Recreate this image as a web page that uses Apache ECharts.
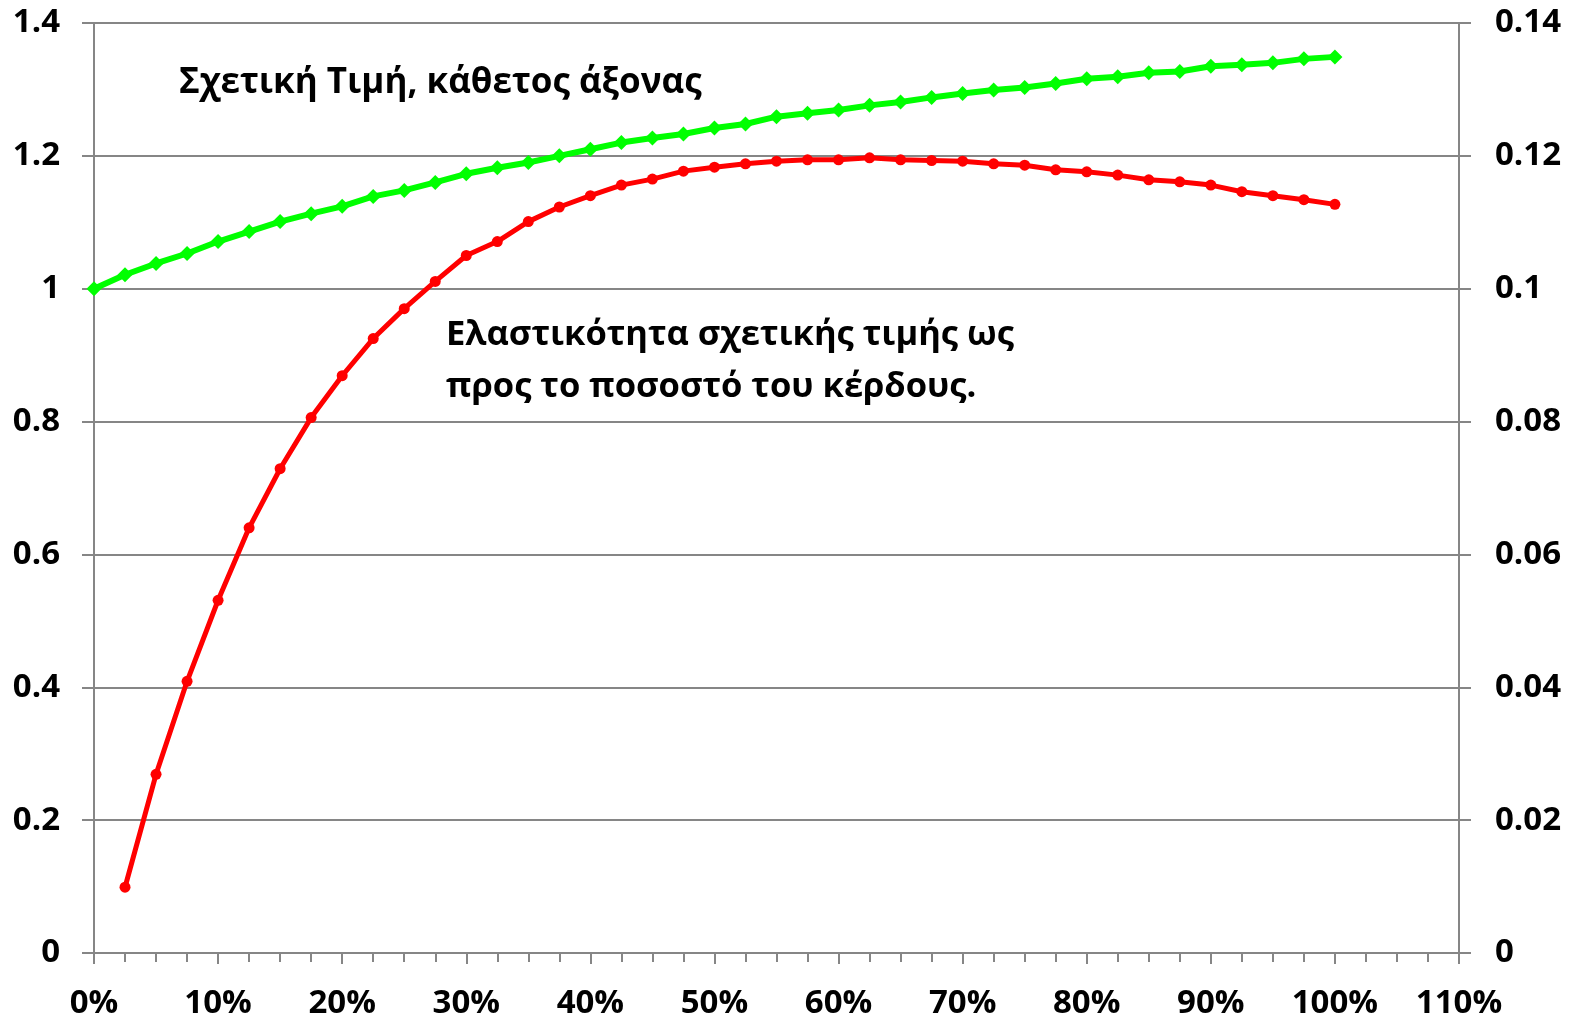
<!DOCTYPE html>
<html>
<head>
<meta charset="utf-8">
<script src="https://cdn.jsdelivr.net/npm/echarts@6/dist/echarts.min.js"></script>
<style>
html,body{margin:0;padding:0;background:#fff;}
#chart{width:1579px;height:1022px;}
</style>
</head>
<body>
<div id="chart"></div>
<script>
// x positions (share of profit)
const greenX = [0,0.025,0.05,0.075,0.1,0.125,0.15,0.175,0.2,0.225,0.25,0.275,0.3,0.325,0.35,0.375,0.4,0.425,0.45,0.475,0.5,0.525,0.55,0.575,0.6,0.625,0.65,0.675,0.7,0.725,0.75,0.775,0.8,0.825,0.85,0.875,0.9,0.925,0.95,0.975,1.0];
const relativePrice = [1.000,1.021,1.038,1.053,1.071,1.086,1.101,1.113,1.124,1.139,1.148,1.160,1.173,1.182,1.190,1.200,1.210,1.220,1.227,1.233,1.242,1.248,1.259,1.264,1.269,1.276,1.281,1.288,1.294,1.299,1.303,1.309,1.316,1.319,1.325,1.327,1.335,1.337,1.340,1.346,1.349];
const redX = [0.025,0.05,0.075,0.1,0.125,0.15,0.175,0.2,0.225,0.25,0.275,0.3,0.325,0.35,0.375,0.4,0.425,0.45,0.475,0.5,0.525,0.55,0.575,0.6,0.625,0.65,0.675,0.7,0.725,0.75,0.775,0.8,0.825,0.85,0.875,0.9,0.925,0.95,0.975,1.0];
const elasticity = [0.0099,0.0269,0.0409,0.0531,0.0640,0.0729,0.0806,0.0869,0.0925,0.0970,0.1011,0.1050,0.1071,0.1101,0.1123,0.1140,0.1156,0.1165,0.1177,0.1183,0.1188,0.1192,0.1194,0.1194,0.1197,0.1194,0.1193,0.1192,0.1188,0.1186,0.1179,0.1176,0.1171,0.1164,0.1161,0.1156,0.1146,0.1140,0.1134,0.1127];
const label1 = 'Σχετική Τιμή, κάθετος άξονας';
const label2a = 'Ελαστικότητα σχετικής τιμής ως';
const label2b = 'προς το ποσοστό του κέρδους.';

const FONT = '"Open Sans", "Noto Sans", sans-serif';
const GRAY = '#868686';
const chart = echarts.init(document.getElementById('chart'));
const fmtNum = v => String(Number(v.toFixed(3)));
chart.setOption({
  animation:false,
  backgroundColor:'#fff',
  grid:{left:94,right:120,top:23,bottom:69,containLabel:false},
  xAxis:{
    type:'value',min:0,max:1.1,interval:0.1,
    axisLine:{show:true,lineStyle:{color:GRAY,width:2}},
    axisTick:{show:true,length:11,lineStyle:{color:GRAY,width:2}},
    minorTick:{show:true,splitNumber:4,length:9,lineStyle:{color:GRAY,width:2}},
    splitLine:{show:false},
    axisLabel:{margin:34,color:'#000',fontFamily:FONT,fontWeight:'bold',fontSize:33,
      formatter:v=>Math.round(v*100)+'%'}
  },
  yAxis:[
    {type:'value',min:0,max:1.4,interval:0.2,position:'left',
     axisLine:{show:true,lineStyle:{color:GRAY,width:2}},
     axisTick:{show:true,length:12,lineStyle:{color:GRAY,width:2}},
     splitLine:{show:true,lineStyle:{color:GRAY,width:2}},
     axisLabel:{margin:34,color:'#000',fontFamily:FONT,fontWeight:'bold',fontSize:33,formatter:fmtNum}},
    {type:'value',min:0,max:0.14,interval:0.02,position:'right',
     axisLine:{show:true,lineStyle:{color:GRAY,width:2}},
     axisTick:{show:true,length:12,lineStyle:{color:GRAY,width:2}},
     splitLine:{show:false},
     axisLabel:{margin:36,color:'#000',fontFamily:FONT,fontWeight:'bold',fontSize:33,formatter:fmtNum}}
  ],
  series:[
    {type:'line',name:label1,yAxisIndex:0,
     data:greenX.map((x,i)=>[x,relativePrice[i]]),
     lineStyle:{color:'#00FF00',width:6},itemStyle:{color:'#00FF00'},
     symbol:'diamond',symbolSize:15,showSymbol:true,z:3},
    {type:'line',name:label2a,yAxisIndex:1,
     data:redX.map((x,i)=>[x,elasticity[i]]),
     lineStyle:{color:'#FF0000',width:5},itemStyle:{color:'#FF0000'},
     symbol:'circle',symbolSize:11,showSymbol:true,z:3}
  ],
  graphic:[
    {type:'text',left:179,top:57,style:{text:label1,fill:'#000',font:'bold 35px '+FONT,lineHeight:52}},
    {type:'text',left:446,top:309,style:{text:label2a+'\n'+label2b,fill:'#000',font:'bold 34.5px '+FONT,lineHeight:52}}
  ]
});
</script>
</body>
</html>
